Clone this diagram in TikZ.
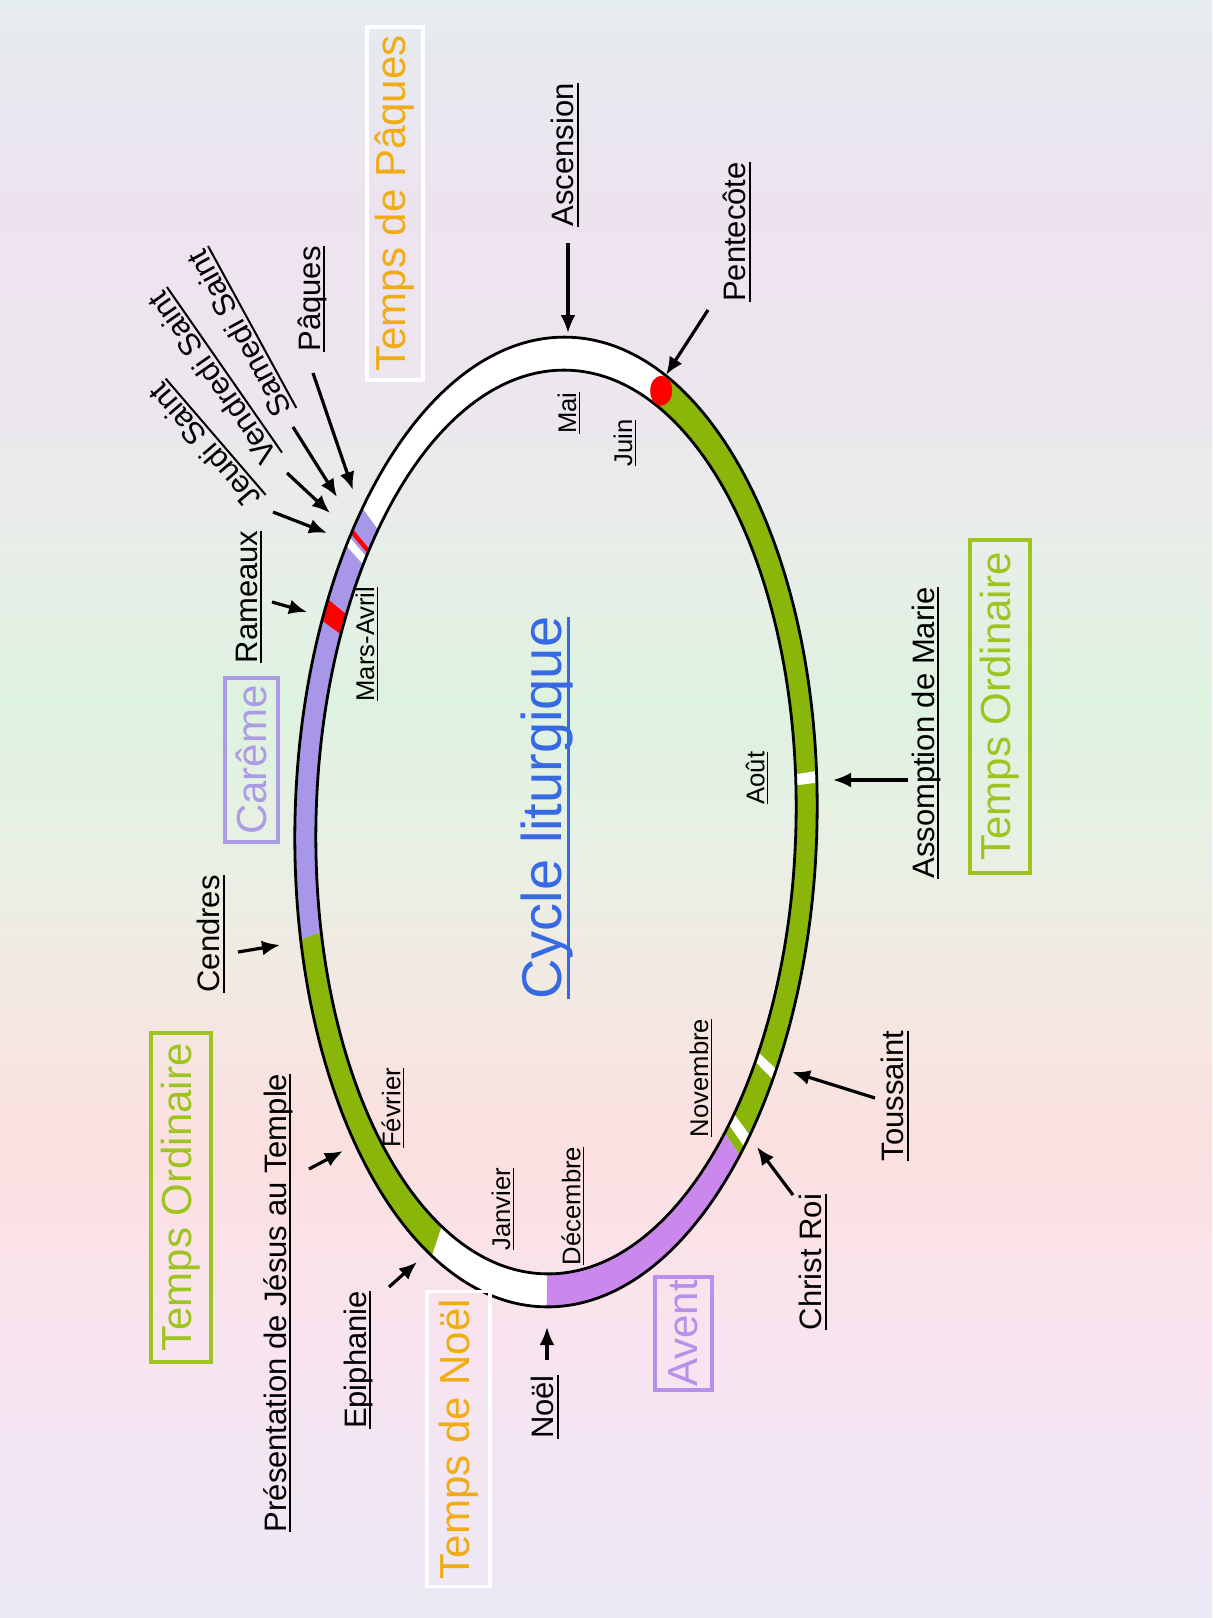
\documentclass[tikz,border=0pt]{standalone}
\usepackage{fontspec}
\setmainfont{Liberation Sans}
\usetikzlibrary{arrows.meta}
\definecolor{bgA}{RGB}{228,236,239}
\definecolor{bgB}{RGB}{237,227,239}
\definecolor{bgC}{RGB}{236,230,238}
\definecolor{bgD}{RGB}{232,238,232}
\definecolor{bgE}{RGB}{222,242,224}
\definecolor{bgF}{RGB}{232,240,228}
\definecolor{bgG}{RGB}{243,232,226}
\definecolor{bgH}{RGB}{251,224,224}
\definecolor{bgI}{RGB}{248,228,240}
\definecolor{bgJ}{RGB}{236,232,246}
\definecolor{ringgreen}{RGB}{138,182,10}
\definecolor{lentpurple}{RGB}{168,150,232}
\definecolor{adventpurple}{RGB}{202,136,236}
\definecolor{ordgreen}{RGB}{158,196,34}
\definecolor{easterorange}{RGB}{240,172,20}
\definecolor{lentlabel}{RGB}{172,156,228}
\definecolor{adventlabel}{RGB}{184,144,236}
\definecolor{cycblue}{RGB}{55,105,228}
\pgfdeclareverticalshading{bgshade}{100bp}{color(0bp)=(bgJ); color(25bp)=(bgJ); color(33.28bp)=(bgI); color(39.46bp)=(bgH); color(44.1bp)=(bgG); color(48.73bp)=(bgF); color(53.37bp)=(bgE); color(58bp)=(bgD); color(62.64bp)=(bgC); color(68.82bp)=(bgB); color(75bp)=(bgA); color(100bp)=(bgA)}
\newcommand\ulx[1]{\setbox0\hbox{#1}\leavevmode\rlap{\rule[-0.16em]{\wd0}{0.065em}}\box0}
\def\RAo{261}\def\RBo{485}\def\RAi{240}\def\RBi{452}
\newcommand\ringseg[3]{\fill[#3] plot[domain=#1:#2,samples=60] ({\RAo*cos(\x)},{\RBo*sin(\x)}) -- plot[domain=#2:#1,samples=60] ({\RAi*cos(\x)},{\RBi*sin(\x)}) -- cycle;}
\tikzset{
  evt/.style={font=\fontsize{15.5}{18}\selectfont, text=black, inner sep=0pt},
  mon/.style={font=\fontsize{12.8}{15}\selectfont, text=black, inner sep=0pt},
  ttl/.style={font=\fontsize{21}{25}\selectfont, inner sep=0pt, line width=1.6pt},
  arr/.style={line width=1.6pt, draw=black, -{Latex[length=9pt,width=7.5pt]}},
  ringline/.style={line width=1.4pt, draw=black},
}
\begin{document}
\begin{tikzpicture}[x=0.5pt,y=-0.5pt]
\useasboundingbox (0,0) rectangle (1212,1618);
\shade[shading=bgshade] (0,0) rectangle (1212,1618);

% ring
\begin{scope}[shift={(556,822)}, rotate=-1.4]
  \ringseg{-67.8}{42.7}{ringgreen}
  \ringseg{42.7}{89.5}{adventpurple}
  \ringseg{89.5}{115.8}{white}
  \ringseg{115.8}{165.2}{ringgreen}
  \ringseg{165.2}{219.6}{lentpurple}
  \ringseg{219.6}{292.4}{white}
  \ringseg{-6.8}{-5.4}{white}
  \ringseg{29.9}{31.3}{white}
  \ringseg{39.5}{41.3}{white}
  \ringseg{203.8}{206.6}{red}
  \ringseg{214.0}{215.2}{white}
  \ringseg{215.7}{216.4}{red}
  \draw[ringline] (0,0) ellipse [x radius=\RAo, y radius=\RBo];
  \draw[ringline] (0,0) ellipse [x radius=\RAi, y radius=\RBi];
  \fill[red] ({250.5*cos(292.2)},{468.5*sin(292.2)}) ellipse [x radius=11, y radius=15];
\end{scope}

% title boxes
\node[ttl, draw=white, text=easterorange, rotate=90, minimum width=176.5pt, minimum height=28pt] (tpaq) at (395,203.5) {Temps de Pâques};
\node[ttl, draw=white, text=easterorange, rotate=90, minimum width=147.5pt, minimum height=31.5pt] (tnoel) at (458.5,1439) {Temps de Noël};
\node[ttl, draw=ordgreen, text=ordgreen, rotate=90, minimum width=166.5pt, minimum height=30pt] (tordR) at (1000,706.5) {Temps Ordinaire};
\node[ttl, draw=ordgreen, text=ordgreen, rotate=90, minimum width=164.5pt, minimum height=30pt] (tordL) at (181,1197.5) {Temps Ordinaire};
\node[ttl, draw=lentlabel, text=lentlabel, rotate=90, minimum width=82pt, minimum height=26.5pt] (tcar) at (251.5,760) {Carême};
\node[ttl, draw=adventlabel, text=adventlabel, rotate=90, minimum width=56.5pt, minimum height=28.5pt] (tav) at (683.5,1333.5) {Avent};

% centre title
\node[font=\fontsize{28}{32}\selectfont, text=cycblue, rotate=90, inner sep=0pt] (cyc) at (547,808) {\ulx{Cycle liturgique}};

% event labels
\node[evt, rotate=90] (asc) at (565,155) {\ulx{Ascension}};
\node[evt, rotate=90] (pent) at (737,232) {\ulx{Pentecôte}};
\node[evt, rotate=90] (paq) at (312,299) {\ulx{Pâques}};
\node[evt, rotate=118.6] (sam) at (241,333) {\ulx{Samedi Saint}};
\node[evt, rotate=124.8] (ven) at (214,377) {\ulx{Vendredi Saint}};
\node[evt, rotate=130.7] (jeu) at (206,445) {\ulx{Jeudi Saint}};
\node[evt, rotate=90] (ram) at (249,597) {\ulx{Rameaux}};
\node[evt, rotate=90] (cend) at (211,934) {\ulx{Cendres}};
\node[evt, rotate=90] (pres) at (278,1303) {\ulx{Présentation de Jésus au Temple}};
\node[evt, rotate=90] (epi) at (358,1360) {\ulx{Epiphanie}};
\node[evt, rotate=90] (noel) at (545,1407) {\ulx{Noël}};
\node[evt, rotate=90] (chr) at (813,1262) {\ulx{Christ Roi}};
\node[evt, rotate=90] (tous) at (895,1096) {\ulx{Toussaint}};
\node[evt, rotate=90] (assm) at (926,733) {\ulx{Assomption de Marie}};

% month labels
\node[mon, rotate=90] (mai) at (569,413) {\ulx{Mai}};
\node[mon, rotate=90] (juin) at (625,443) {\ulx{Juin}};
\node[mon, rotate=90] (mars) at (367,644) {\ulx{Mars-Avril}};
\node[mon, rotate=90] (fev) at (393,1108) {\ulx{Février}};
\node[mon, rotate=90] (janv) at (503,1209) {\ulx{Janvier}};
\node[mon, rotate=90] (dec) at (573,1206) {\ulx{Décembre}};
\node[mon, rotate=90] (nov) at (701,1078) {\ulx{Novembre}};
\node[mon, rotate=90] (aout) at (757,778) {\ulx{Août}};

% arrow end points
\coordinate (ascA) at (568,243);  \coordinate (ascB) at (568,333);
\coordinate (penA) at (708,310);  \coordinate (penB) at (666,375);
\coordinate (paqA) at (313,373);  \coordinate (paqB) at (353,490);
\coordinate (samA) at (293,427);  \coordinate (samB) at (337,497);
\coordinate (venA) at (287,473);  \coordinate (venB) at (330,513);
\coordinate (jeuA) at (273,512);  \coordinate (jeuB) at (327,533);
\coordinate (ramA) at (272,602);  \coordinate (ramB) at (307,612);
\coordinate (cenA) at (238,952);  \coordinate (cenB) at (280,945);
\coordinate (preA) at (309,1169); \coordinate (preB) at (343,1151);
\coordinate (epiA) at (389,1287); \coordinate (epiB) at (417,1262);
\coordinate (noeA) at (547,1360); \coordinate (noeB) at (547,1327);
\coordinate (chrA) at (793,1195); \coordinate (chrB) at (757,1147);
\coordinate (touA) at (875,1098); \coordinate (touB) at (792,1072);
\coordinate (assA) at (908,780);  \coordinate (assB) at (833,780);

\draw[arr] (ascA) -- (ascB);
\draw[arr] (penA) -- (penB);
\draw[arr] (paqA) -- (paqB);
\draw[arr] (samA) -- (samB);
\draw[arr] (venA) -- (venB);
\draw[arr] (jeuA) -- (jeuB);
\draw[arr] (ramA) -- (ramB);
\draw[arr] (cenA) -- (cenB);
\draw[arr] (preA) -- (preB);
\draw[arr] (epiA) -- (epiB);
\draw[arr] (noeA) -- (noeB);
\draw[arr] (chrA) -- (chrB);
\draw[arr] (touA) -- (touB);
\draw[arr] (assA) -- (assB);
\end{tikzpicture}
\end{document}
